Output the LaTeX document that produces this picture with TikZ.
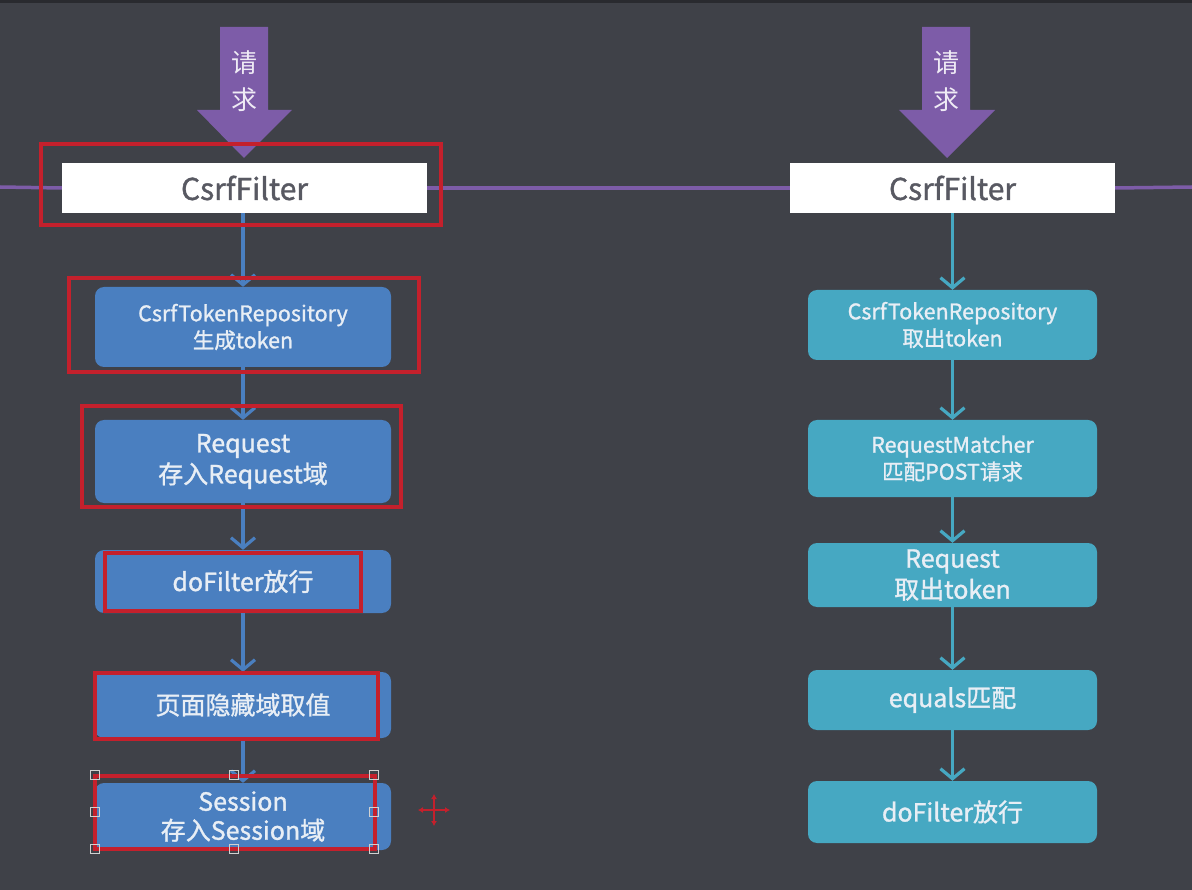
\documentclass[tikz,border=0pt]{standalone}
\usepackage{fontspec}
\setmainfont{Noto Sans CJK SC}
\newfontfamily\boxfont{Noto Sans CJK SC}[FakeBold=1.2]
\usetikzlibrary{arrows.meta}
\definecolor{bgc}{HTML}{3F4148}
\definecolor{purp}{HTML}{7D5CA8}
\definecolor{lblue}{HTML}{4A7FC0}
\definecolor{teal}{HTML}{46A8C2}
\definecolor{redc}{HTML}{C4202C}
\definecolor{boxtxt}{HTML}{E8EEF5}
\definecolor{filtertxt}{HTML}{585962}
\tikzset{
  x=1pt, y=-1pt,
  filterbox/.style={draw=none, fill=white, minimum height=50pt, inner sep=0pt, font=\boxfont\fontsize{30}{32}\selectfont, text=filtertxt},
  bluebox/.style={fill=lblue, rounded corners=9pt, minimum width=296pt, inner sep=0pt, align=center, text=boxtxt},
  tealbox/.style={fill=teal, rounded corners=9pt, minimum width=289pt, inner sep=0pt, align=center, text=boxtxt},
  smallfont/.style={font=\boxfont\fontsize{21.5}{27}\selectfont},
  bigfont/.style={font=\boxfont\fontsize{25}{31}\selectfont},
  flowL/.style={draw=lblue, line width=3.2pt, -{Straight Barb[length=10pt,width=24pt,line width=3.2pt]}},
  flowR/.style={draw=teal, line width=3.2pt, -{Straight Barb[length=10pt,width=24pt,line width=3.2pt]}},
  redmark/.style={draw=redc, line width=3.2pt},
  handle/.style={draw=black!18, line width=1.2pt, minimum size=9pt, inner sep=0pt},
  reqtxt/.style={text=white!88!purp, font=\fontsize{26}{37}\selectfont, align=center}
}
\begin{document}
\begin{tikzpicture}
\fill[bgc] (0,0) rectangle (1192,890);
\fill[black!35!bgc] (0,0) rectangle (1192,3);
\useasboundingbox (0,0) rectangle (1192,890);

% white filter boxes
\node[filterbox, minimum width=365pt] (fL) at (244.5,188) {CsrfFilter};
\node[filterbox, minimum width=325pt] (fR) at (952.5,188) {CsrfFilter};

% horizontal purple line
\coordinate (edgeL) at (0,187);
\coordinate (edgeR) at (1192,187);
\draw[purp, line width=3.5pt] (edgeL) -- (fL.west);
\draw[purp, line width=3.5pt] (fL.east) -- (fR.west);
\draw[purp, line width=3.5pt] (fR.east) -- (edgeR);

% purple request arrows
\fill[purp] (220,27) -- (268,27) -- (268,110) -- (292,110) -- (244,158) -- (197,110) -- (220,110) -- cycle;
\node[reqtxt] (qL) at (244,81) {请\\求};
\fill[purp] (922,27) -- (970,27) -- (970,110) -- (995,110) -- (947,158) -- (899,110) -- (922,110) -- cycle;
\node[reqtxt] (qR) at (946,81) {请\\求};

% left column
\node[bluebox, smallfont, minimum height=80pt] (L1) at (243,327) {CsrfTokenRepository\\生成token};
\node[bluebox, bigfont, minimum height=83pt] (L2) at (243,461.5) {Request\\存入Request域};
\node[bluebox, bigfont, minimum height=63pt] (L3) at (243,581.5) {doFilter放行};
\node[bluebox, bigfont, minimum height=66pt] (L4) at (243,705) {页面隐藏域取值};
\node[bluebox, bigfont, minimum height=67pt, font=\boxfont\fontsize{25}{29}\selectfont] (L5) at (243,816.5) {Session\\存入Session域};

\draw[flowL] (fL.south -| L1.north) -- (L1.north);
\draw[flowL] (L1) -- (L2);
\draw[flowL] (L2) -- (L3);
\draw[flowL] (L3) -- (L4);
\draw[flowL] (L4) -- (L5);

% right column
\node[tealbox, smallfont, minimum height=70pt] (R1) at (952.5,325) {CsrfTokenRepository\\取出token};
\node[tealbox, smallfont, minimum height=77pt] (R2) at (952.5,458.5) {RequestMatcher\\匹配POST请求};
\node[tealbox, bigfont, minimum height=64pt, font=\boxfont\fontsize{25}{31}\selectfont] (R3) at (952.5,575) {Request\\取出token};
\node[tealbox, bigfont, minimum height=60pt] (R4) at (952.5,700) {equals匹配};
\node[tealbox, bigfont, minimum height=62pt] (R5) at (952.5,812) {doFilter放行};

\draw[flowR] (fR) -- (R1);
\draw[flowR] (R1) -- (R2);
\draw[flowR] (R2) -- (R3);
\draw[flowR] (R3) -- (R4);
\draw[flowR] (R4) -- (R5);

% red highlight rectangles
\draw[redmark] (41,144) rectangle (441,225);
\draw[redmark] (69,278) rectangle (419,372);
\draw[redmark] (82,406) rectangle (401,507);
\draw[redmark] (105,553) rectangle (361,611);
\draw[redmark] (95,673) rectangle (378,739);
\draw[redmark] (95,776) rectangle (375,849);

% selection handles
\foreach \hx/\hy [count=\i] in {95/775,234/775,374/775,95/812,374/812,95/849,234/849,374/849}
  \node[handle] (h\i) at (\hx,\hy) {};

% move cursor
\coordinate (cur) at (434,810);
\draw[redc, line width=1.6pt, -{Latex[length=5pt,width=6pt]}] (cur) -- ++(0,-16);
\draw[redc, line width=1.6pt, -{Latex[length=5pt,width=6pt]}] (cur) -- ++(0,16);
\draw[redc, line width=1.6pt, -{Latex[length=5pt,width=6pt]}] (cur) -- ++(-16,0);
\draw[redc, line width=1.6pt, -{Latex[length=5pt,width=6pt]}] (cur) -- ++(16,0);
\end{tikzpicture}
\end{document}
